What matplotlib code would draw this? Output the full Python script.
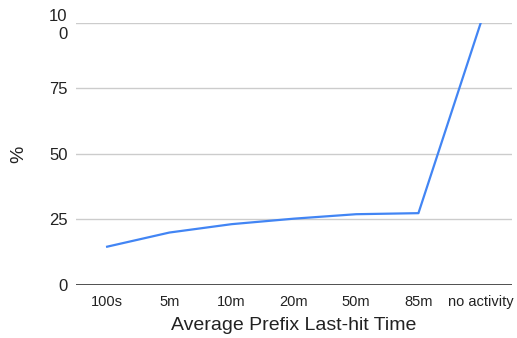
import matplotlib.pyplot as plt

plt.rcParams['font.family'] = ['Liberation Sans', 'DejaVu Sans']

categories = ["100s", "5m", "10m", "20m", "50m", "85m", "no activity"]
percent = [14.6, 20.0, 23.2, 25.3, 27.0, 27.4, 100.0]
y_ticks = [0, 25, 50, 75, 100]
y_tick_labels = ["0", "25", "50", "75", "10\n0"]

fig = plt.figure(figsize=(5.17, 3.38), dpi=100)
ax = fig.add_axes([0.147, 0.157, 0.843, 0.775])

x = list(range(len(categories)))
ax.plot(x, percent, color="#4285F4", linewidth=1.6)

ax.set_xlim(-0.5, len(categories) - 0.5)
ax.set_ylim(0, 100)
ax.set_xticks(x)
ax.set_xticklabels(categories, fontsize=10.5, color="#222222")
ax.set_yticks(y_ticks)
ax.set_yticklabels(y_tick_labels, fontsize=12, color="#222222", linespacing=1.25)
ax.tick_params(axis="y", length=0, pad=6)
ax.tick_params(axis="x", length=0, pad=7)

ax.grid(axis="y", color="#cccccc", linewidth=1)
ax.axhline(0, color="#333333", linewidth=1.2, zorder=3)
for s in ax.spines.values():
    s.set_visible(False)
ax.set_axisbelow(True)

ax.set_xlabel("Average Prefix Last-hit Time", fontsize=14, color="#222222", labelpad=6)
ax.set_ylabel("%", fontsize=14, color="#222222", labelpad=16)

fig.savefig("out.png", dpi=100)
